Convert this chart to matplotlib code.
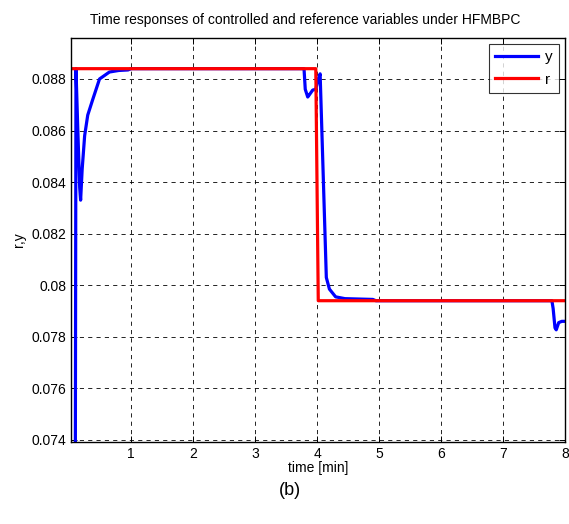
import matplotlib
matplotlib.use("Agg")
import matplotlib.pyplot as plt
from matplotlib.ticker import FuncFormatter

plt.rcParams['font.family'] = ['Liberation Sans', 'DejaVu Sans']

# Controlled variable y
t_y = [0.10, 0.11, 0.14, 0.17, 0.185, 0.21, 0.25, 0.30, 0.38, 0.49, 0.65, 0.80, 0.95, 1.00,
       3.79, 3.81, 3.85, 3.88, 3.93, 3.98, 4.02, 4.05, 4.15, 4.20, 4.30, 4.45, 4.90, 4.95,
       7.79, 7.81, 7.84, 7.86, 7.90, 7.95, 8.00]
y_vals = [0.0735, 0.0884, 0.0860, 0.0838, 0.0833, 0.0845, 0.0858, 0.0866, 0.0872, 0.0880, 0.08827, 0.08833, 0.08835, 0.0884,
          0.0884, 0.0876, 0.0873, 0.0874, 0.08757, 0.0876, 0.0880, 0.0882, 0.0803, 0.07985, 0.07955, 0.07948, 0.07945, 0.0794,
          0.0794, 0.0791, 0.07835, 0.07827, 0.07855, 0.0786, 0.0786]

# Reference variable r
t_r = [0.0, 3.98, 4.02, 8.0]
r_vals = [0.0884, 0.0884, 0.0794, 0.0794]

x_ticks = [1, 2, 3, 4, 5, 6, 7, 8]
y_ticks = [0.074, 0.076, 0.078, 0.080, 0.082, 0.084, 0.086, 0.088]

fig = plt.figure(figsize=(5.69, 5.24), dpi=100)
ax = fig.add_axes([0.1248, 0.1565, 0.868, 0.771])

ax.plot(t_y, y_vals, color='#0000ff', lw=2.3, label='y')
ax.plot(t_r, r_vals, color='#ff0000', lw=2.3, label='r')

ax.set_xlim(0.03, 8.0)
ax.set_ylim(0.07392, 0.08959)
ax.set_xticks(x_ticks)
ax.set_yticks(y_ticks)
ax.yaxis.set_major_formatter(FuncFormatter(lambda v, p: '%g' % round(v, 4)))

ax.grid(True, color='black', linestyle=(0, (5, 5)), linewidth=0.6)
ax.tick_params(direction='in', top=True, right=True, length=4, width=0.7,
               labelsize=10, colors='black')
for s in ax.spines.values():
    s.set_linewidth(1.0)

ax.set_title('Time responses of controlled and reference variables under HFMBPC',
             fontsize=10, pad=10, x=0.474)
ax.set_xlabel('time [min]', fontsize=10, labelpad=0)
ax.set_ylabel('r,y', fontsize=10, labelpad=4)

leg = ax.legend(loc='upper right', fontsize=11, frameon=True, fancybox=False,
                edgecolor='black', handlelength=2.8, borderaxespad=0.4,
                handletextpad=0.45, labelspacing=0.55, borderpad=0.4)
leg.get_frame().set_linewidth(0.8)

fig.text(0.51, 0.063, '(b)', ha='center', va='center', fontsize=13)

fig.savefig('out.png', dpi=100)
